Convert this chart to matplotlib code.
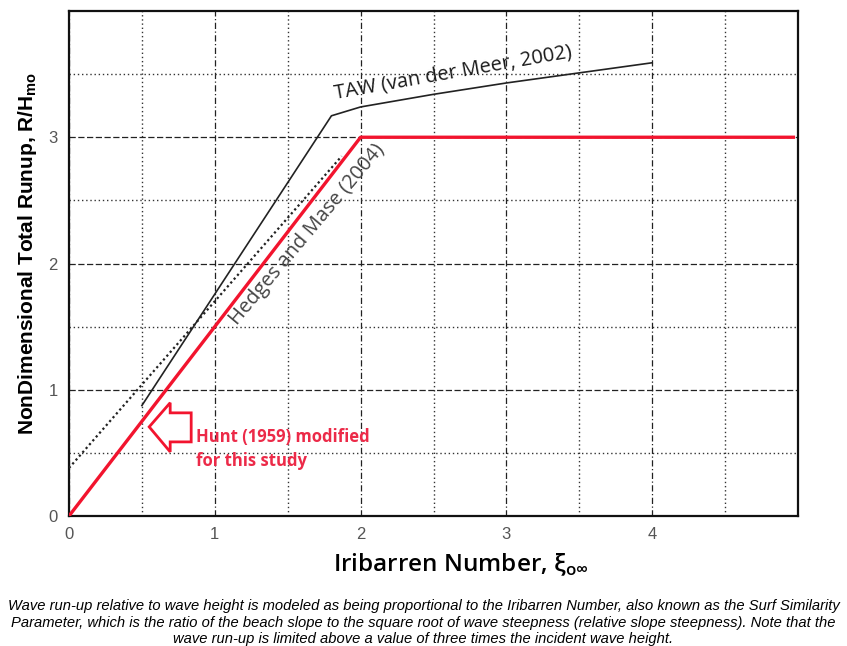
import matplotlib
matplotlib.use('Agg')
import matplotlib.pyplot as plt
from matplotlib.patches import Polygon
import numpy as np

# Hunt (1959) as modified: linear up to xi = 2, capped at R/H = 3
hunt_x = [0.0, 2.0, 4.98]
hunt_y = [0.0, 3.0, 3.0]

# TAW (van der Meer, 2002)
taw_x = [0.5, 1.8, 2.0, 2.5, 3.0, 3.5, 4.0]
taw_y = [0.875, 3.17, 3.24, 3.34, 3.43, 3.51, 3.59]

# Hedges and Mase (2004)
hm_x = [0.0, 1.87]
hm_y = [0.38, 2.85]

xticks = [0, 1, 2, 3, 4]
yticks = [0, 1, 2, 3]

caption = ("Wave run-up relative to wave height is modeled as being proportional to the Iribarren Number, also known as the Surf Similarity\n"
           "Parameter, which is the ratio of the beach slope to the square root of wave steepness (relative slope steepness). Note that the\n"
           "wave run-up is limited above a value of three times the incident wave height.")

fig = plt.figure(figsize=(8.47, 6.46), dpi=100)
ax = fig.add_axes([69/847, 1-516/646, 729/847, 505/646])

ax.set_xlim(0, 5)
ax.set_ylim(0, 4)
ax.set_xticks(xticks)
ax.set_yticks(yticks)
ax.set_xticks(np.arange(0.5, 5, 1.0), minor=True)
ax.set_yticks(np.arange(0.5, 4, 1.0), minor=True)
ax.tick_params(which='both', length=0, labelsize=12, labelcolor='#555555', pad=8)
for lab in ax.get_xticklabels() + ax.get_yticklabels():
    lab.set_family('Liberation Sans')

ax.grid(which='major', axis='x', color='#222222', lw=0.9, ls=(0, (5, 2, 1, 2)))
ax.grid(which='major', axis='y', color='#222222', lw=0.9, ls=(0, (5, 2)))
ax.grid(which='minor', color='#333333', lw=1.0, ls=(0, (1, 2)))
for s in ax.spines.values():
    s.set_linewidth(1.6)
    s.set_color('#111111')

ax.plot(hm_x, hm_y, color='#222222', lw=1.6, ls=(0, (1, 1.3)), zorder=3)
ax.plot(taw_x, taw_y, color='#222222', lw=1.2, zorder=3)
ax.plot(hunt_x, hunt_y, color='#f2142e', lw=2.4, zorder=5, solid_capstyle='butt')

ax.text(1.83, 3.27, 'TAW (van der Meer, 2002)', rotation=10, rotation_mode='anchor',
        ha='left', va='bottom', fontsize=14.5, family='Open Sans', color='#1a1a1a', zorder=4)
ax.text(1.635, 2.23, 'Hedges and Mase (2004)', rotation=50, rotation_mode='anchor',
        ha='center', va='center', fontsize=14.5, family='Open Sans', color='#444444', zorder=4)

# hollow arrow pointing at the red line
arrow = Polygon([(0.55, 0.706), (0.694, 0.897), (0.694, 0.817), (0.838, 0.817),
                 (0.838, 0.587), (0.694, 0.587), (0.694, 0.508)],
                closed=True, fill=False, edgecolor='#f2142e', lw=2.0, zorder=6)
ax.add_patch(arrow)
ax.text(0.87, 0.70, 'Hunt (1959) modified\nfor this study', color='#ec2a48',
        fontsize=12, fontweight='bold', family='Open Sans', ha='left', va='top',
        linespacing=1.45, zorder=6)

ax.set_ylabel('NonDimensional Total Runup, R/H$_{\\mathregular{mo}}$', fontsize=15,
              fontweight='bold', family='Liberation Sans')
ax.yaxis.set_label_coords(-30/729, 0.52)
ax.set_xlabel('Iribarren Number, ξ$_{\\mathregular{o\\infty}}$', fontsize=17.5,
              fontweight='semibold', family='Open Sans')
ax.xaxis.set_label_coords((461 - 69)/729, -36/505)

fig.text(0.5, 0.036, caption, ha='center', va='center', fontsize=10.6, style='italic',
         family=['Liberation Sans Narrow', 'Liberation Sans'], linespacing=1.25)

fig.savefig('out.png', dpi=100)
